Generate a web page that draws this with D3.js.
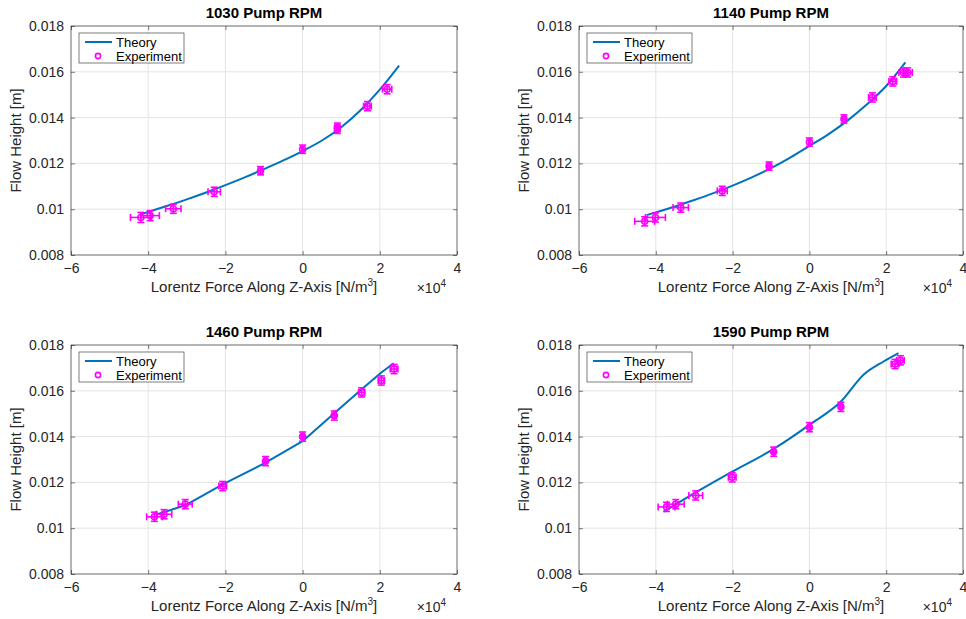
<!DOCTYPE html>
<html><head><meta charset="utf-8">
<script src="https://cdn.jsdelivr.net/npm/d3@7"></script>
<style>body{margin:0;background:#fff;} svg{display:block;font-family:"Liberation Sans",Arial,sans-serif;}</style>
</head><body>
<svg id="c" width="966" height="619"></svg>
<script>
// ---- data ----
const titles = ["1030 Pump RPM", "1140 Pump RPM", "1460 Pump RPM", "1590 Pump RPM"];
const xTicks = [-6, -4, -2, 0, 2, 4];
const yTicks = [0.008, 0.01, 0.012, 0.014, 0.016, 0.018];
const yTickLabels = ["0.008", "0.01", "0.012", "0.014", "0.016", "0.018"];
// theory curves: [x (×1e4 N/m^3), flow height (m)]
const theory1030 = [[-4.2,0.00977],[-4.0,0.00988],[-3.5,0.01015],[-3.0,0.01043],[-2.5,0.01073],[-2.0,0.01105],[-1.5,0.01139],[-1.0,0.01175],[-0.5,0.01213],[0,0.01254],[0.5,0.0130],[1.0,0.01358],[1.5,0.01432],[2.0,0.01522],[2.5,0.01627]];
const theory1140 = [[-4.24,0.00974],[-4.0,0.00986],[-3.5,0.01012],[-3.0,0.0104],[-2.5,0.0107],[-2.0,0.01103],[-1.5,0.01139],[-1.0,0.01179],[-0.5,0.01225],[0,0.01276],[0.5,0.01328],[1.0,0.01388],[1.5,0.01458],[2.0,0.01538],[2.5,0.01641]];
const theory1460 = [[-3.78,0.0106],[-3.04,0.0110],[-2.07,0.01191],[-0.96,0.01286],[0,0.0138],[0.82,0.01502],[1.53,0.01607],[2.04,0.0168],[2.36,0.0172]];
const theory1590 = [[-3.79,0.01072],[-2.96,0.01156],[-2.01,0.01247],[-0.93,0.01346],[0,0.01451],[0.82,0.01553],[1.41,0.0167],[1.93,0.01728],[2.32,0.01765]];
// experiment: [x, y, xErr, yErr]
const exp1030 = [[-4.19,0.00964,0.27,0.00022],[-3.95,0.00972,0.24,0.00022],[-3.35,0.01002,0.20,0.0002],[-2.29,0.01076,0.16,0.0002],[-1.09,0.01168,0.05,0.00018],[0,0.01262,0.03,0.00018],[0.9,0.01349,0.03,0.00018],[0.9,0.01358,0.03,0.00018],[1.68,0.0145,0.1,0.0002],[2.19,0.01524,0.12,0.0002]];
const exp1140 = [[-4.29,0.00947,0.26,0.0002],[-4.01,0.00964,0.26,0.0002],[-3.35,0.01007,0.2,0.0002],[-2.27,0.0108,0.13,0.0002],[-1.05,0.01188,0.04,0.00018],[0,0.01293,0.02,0.00018],[0.9,0.01394,0.04,0.00018],[1.64,0.01488,0.1,0.0002],[2.17,0.01558,0.1,0.0002],[2.45,0.01597,0.12,0.0002],[2.56,0.01597,0.12,0.0002]];
const exp1460 = [[-3.84,0.0105,0.2,0.0002],[-3.59,0.01061,0.2,0.0002],[-3.04,0.01105,0.18,0.0002],[-2.07,0.01184,0.1,0.0002],[-0.96,0.01293,0.04,0.0002],[0,0.0140,0.04,0.0002],[0.82,0.01492,0.05,0.0002],[1.53,0.01593,0.08,0.0002],[2.04,0.01645,0.08,0.0002],[2.37,0.01695,0.1,0.0002]];
const exp1590 = [[-3.72,0.01093,0.22,0.0002],[-3.48,0.01105,0.22,0.0002],[-2.96,0.01143,0.18,0.0002],[-2.01,0.01222,0.1,0.0002],[-0.93,0.01334,0.04,0.0002],[0,0.01441,0.04,0.0002],[0.82,0.0153,0.04,0.0002],[2.23,0.01717,0.1,0.0002],[2.37,0.01733,0.1,0.0002]];

const theories = [theory1030, theory1140, theory1460, theory1590];
const experiments = [exp1030, exp1140, exp1460, exp1590];
const curves = [d3.curveMonotoneX, d3.curveMonotoneX, d3.curveLinear, d3.curveMonotoneX];

const panels = [
  {x0:71, x1:457, y0:26, y1:255},
  {x0:579, x1:963, y0:26, y1:255},
  {x0:71, x1:457, y0:345, y1:574},
  {x0:579, x1:963, y0:345, y1:574}
];
const svg = d3.select("#c");
const axisColor = "#262626", gridColor = "#e4e4e4", blue = "#0072BD", mag = "#ff00ff";

panels.forEach((p, i) => {
  const x = d3.scaleLinear().domain([-6, 4]).range([p.x0, p.x1]);
  const y = d3.scaleLinear().domain([0.008, 0.018]).range([p.y1, p.y0]);
  const g = svg.append("g");
  // grid
  g.selectAll(".gx").data(xTicks).enter().append("line")
    .attr("x1", d => x(d)).attr("x2", d => x(d)).attr("y1", p.y0).attr("y2", p.y1)
    .attr("stroke", gridColor).attr("stroke-width", 1);
  g.selectAll(".gy").data(yTicks).enter().append("line")
    .attr("y1", d => y(d)).attr("y2", d => y(d)).attr("x1", p.x0).attr("x2", p.x1)
    .attr("stroke", gridColor).attr("stroke-width", 1);
  // box
  g.append("rect").attr("x", p.x0).attr("y", p.y0).attr("width", p.x1 - p.x0).attr("height", p.y1 - p.y0)
    .attr("fill", "none").attr("stroke", axisColor).attr("stroke-width", 0.6);
  // axes with inward ticks
  const xa = d3.axisBottom(x).tickValues(xTicks).tickSize(-4).tickPadding(8).tickFormat(d3.format("d"));
  const gx = g.append("g").attr("transform", `translate(0,${p.y1})`).call(xa);
  const xaTop = d3.axisTop(x).tickValues(xTicks).tickSize(-4).tickFormat("");
  const gxt = g.append("g").attr("transform", `translate(0,${p.y0})`).call(xaTop);
  const ya = d3.axisLeft(y).tickValues(yTicks).tickSize(-4).tickPadding(7).tickFormat((d, k) => yTickLabels[k]);
  const gy = g.append("g").attr("transform", `translate(${p.x0},0)`).call(ya);
  const yaR = d3.axisRight(y).tickValues(yTicks).tickSize(-4).tickFormat("");
  const gyr = g.append("g").attr("transform", `translate(${p.x1},0)`).call(yaR);
  [gx, gxt, gy, gyr].forEach(a => {
    a.select(".domain").remove();
    a.selectAll("line").attr("stroke", axisColor).attr("stroke-width", 0.6);
    a.selectAll("text").attr("fill", axisColor).style("font-size", "14px").style("font-family", "'Liberation Sans',Arial,sans-serif");
  });
  // title
  g.append("text").attr("x", (p.x0 + p.x1) / 2).attr("y", p.y0 - 8).attr("text-anchor", "middle")
    .attr("font-weight", "bold").attr("font-size", 15).attr("fill", "#000").text(titles[i]);
  // x label
  const xl = g.append("text").attr("x", (p.x0 + p.x1) / 2).attr("y", p.y1 + 37).attr("text-anchor", "middle")
    .attr("font-size", 15).attr("fill", axisColor);
  xl.append("tspan").text("Lorentz Force Along Z-Axis [N/m");
  xl.append("tspan").attr("font-size", 10).attr("dy", -6).text("3");
  xl.append("tspan").attr("dy", 6).text("]");
  // x10^4
  const ex = g.append("text").attr("x", p.x1 - 11).attr("y", p.y1 + 38).attr("text-anchor", "end")
    .attr("font-size", 14).attr("fill", axisColor);
  ex.append("tspan").text("×10");
  ex.append("tspan").attr("font-size", 10).attr("dy", -6).text("4");
  // y label
  g.append("text").attr("transform", `translate(${p.x0 - 50},${(p.y0 + p.y1) / 2}) rotate(-90)`)
    .attr("text-anchor", "middle").attr("font-size", 15).attr("fill", axisColor).text("Flow Height [m]");

  // theory line
  const line = d3.line().x(d => x(d[0])).y(d => y(d[1])).curve(curves[i]);
  g.append("path").datum(theories[i]).attr("d", line).attr("fill", "none")
    .attr("stroke", blue).attr("stroke-width", 2).attr("stroke-linejoin", "round");
  // experiment
  const e = g.append("g").attr("stroke", mag).attr("stroke-width", 1.6).attr("fill", "none");
  experiments[i].forEach(d => {
    const cx = x(d[0]), cy = y(d[1]);
    const xl0 = x(d[0] - d[2]), xr0 = x(d[0] + d[2]);
    const yt = y(d[1] + d[3]), yb = y(d[1] - d[3]);
    e.append("line").attr("x1", xl0).attr("x2", xr0).attr("y1", cy).attr("y2", cy);
    e.append("line").attr("x1", xl0).attr("x2", xl0).attr("y1", cy - 3.5).attr("y2", cy + 3.5);
    e.append("line").attr("x1", xr0).attr("x2", xr0).attr("y1", cy - 3.5).attr("y2", cy + 3.5);
    e.append("line").attr("x1", cx).attr("x2", cx).attr("y1", yt).attr("y2", yb);
    e.append("line").attr("x1", cx - 3.5).attr("x2", cx + 3.5).attr("y1", yt).attr("y2", yt);
    e.append("line").attr("x1", cx - 3.5).attr("x2", cx + 3.5).attr("y1", yb).attr("y2", yb);
    e.append("circle").attr("cx", cx).attr("cy", cy).attr("r", 3);
  });

  // legend
  const lx = p.x0 + 8, ly = p.y0 + 7;
  const lg = g.append("g");
  lg.append("rect").attr("x", lx).attr("y", ly).attr("width", 105).attr("height", 30)
    .attr("fill", "#fff").attr("stroke", "#262626").attr("stroke-width", 0.6);
  lg.append("line").attr("x1", lx + 6).attr("x2", lx + 33).attr("y1", ly + 9).attr("y2", ly + 9)
    .attr("stroke", blue).attr("stroke-width", 2);
  lg.append("text").attr("x", lx + 37).attr("y", ly + 13.5).attr("font-size", 13).attr("fill", "#000").text("Theory");
  lg.append("circle").attr("cx", lx + 19).attr("cy", ly + 23).attr("r", 2.6)
    .attr("fill", "none").attr("stroke", mag).attr("stroke-width", 1.6);
  lg.append("text").attr("x", lx + 37).attr("y", ly + 27.5).attr("font-size", 13).attr("fill", "#000").text("Experiment");
});
</script>
</body></html>
